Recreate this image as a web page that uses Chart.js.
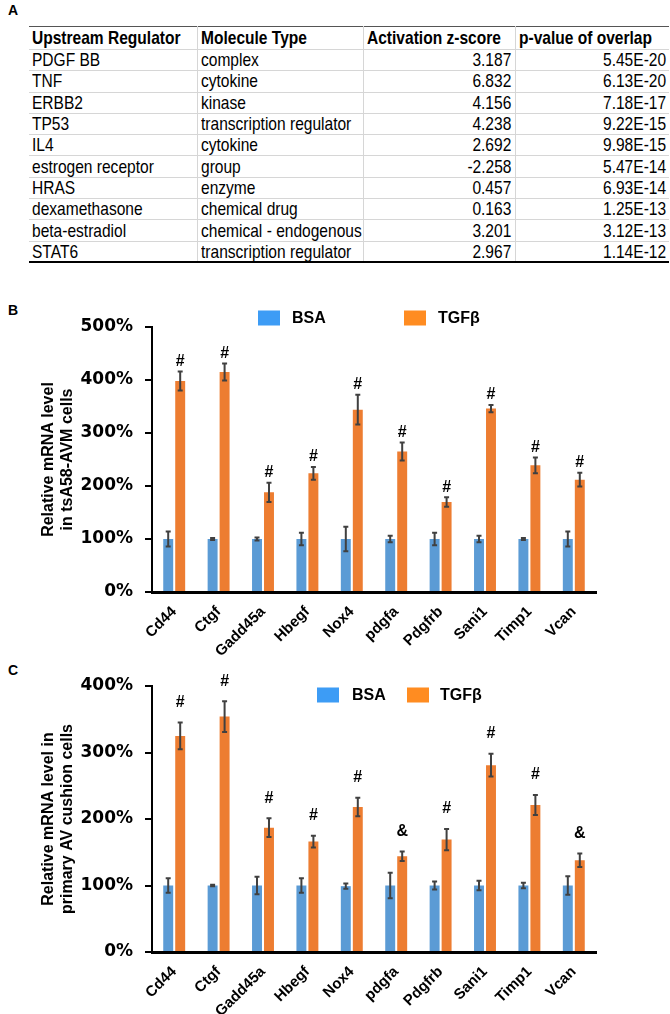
<!DOCTYPE html>
<html><head><meta charset="utf-8">
<script src="https://cdn.jsdelivr.net/npm/chart.js@4.4.1/dist/chart.umd.min.js"></script>
<style>
html,body{margin:0;padding:0;background:#fff;width:670px;height:1014px;overflow:hidden;position:relative}
.panel{position:absolute;font:bold 14px 'Liberation Sans',Arial,sans-serif;color:#000}
#tbl{position:absolute;left:29px;top:26px;width:640px;border-collapse:collapse;table-layout:fixed;
 font-family:'Liberation Sans',Arial,sans-serif;font-size:18.5px;color:#000;border-top:1px solid #555}
#tbl th,#tbl td{padding:0 3px;white-space:nowrap;overflow:visible;border-bottom:1px solid #d6d6d6;line-height:18px}
#tbl th+th,#tbl td+td{border-left:1px solid #d6d6d6}
#tbl th{text-align:left;font-weight:bold}
#tbl thead tr{height:23px}
#tbl tbody tr{height:21.3px}
#tbl td.num{text-align:right}
#tbl span{display:inline-block;transform:scaleX(0.84);transform-origin:left center}
#tbl td.num span{transform-origin:right center}
#tbl tbody tr:last-child td{border-bottom:2px solid #000}
canvas{position:absolute;left:0}
</style></head>
<body>
<div class="panel" style="left:8px;top:2px">A</div>
<table id="tbl"><colgroup><col style="width:168px"><col style="width:166px"><col style="width:152px"><col style="width:154px"></colgroup>
<thead><tr id="hdr"></tr></thead><tbody id="tb"></tbody></table>
<div class="panel" style="left:8px;top:302px">B</div>
<div class="panel" style="left:8px;top:662px">C</div>
<canvas id="cB" width="670" height="370" style="top:298px"></canvas>
<canvas id="cC" width="670" height="374" style="top:640px"></canvas>
<script>
// ---------- Table data (panel A) ----------
const tableHeaders = ['Upstream Regulator','Molecule Type','Activation z-score','p-value of overlap'];
const regulators = ['PDGF BB','TNF','ERBB2','TP53','IL4','estrogen receptor','HRAS','dexamethasone','beta-estradiol','STAT6'];
const moleculeTypes = ['complex','cytokine','kinase','transcription regulator','cytokine','group','enzyme','chemical drug','chemical - endogenous','transcription regulator'];
const zScores = [3.187,6.832,4.156,4.238,2.692,-2.258,0.457,0.163,3.201,2.967];
const pValues = ['5.45E-20','6.13E-20','7.18E-17','9.22E-15','9.98E-15','5.47E-14','6.93E-14','1.25E-13','3.12E-13','1.14E-12'];

// ---------- Chart data (panels B and C) ----------
const genes = ['Cd44','Ctgf','Gadd45a','Hbegf','Nox4','pdgfa','Pdgfrb','Sani1','Timp1','Vcan'];
const seriesNames = ['BSA','TGFβ'];
const bsaB    = [100,100,100,100,100,100,100,100,100,100];
const bsaErrB = [14,2,3,12,23,6,12,6,2,14];
const tgfB    = [398,415,188,224,344,265,170,346,239,212];
const tgfErrB = [18,16,18,12,28,17,9,7,15,13];
const sigB    = ['#','#','#','#','#','#','#','#','#','#'];
const bsaC    = [100,100,100,100,99,100,100,100,100,100];
const bsaErrC = [11,1,13,11,4,19,6,7,4,14];
const tgfC    = [325,354,187,166,218,144,169,281,221,138];
const tgfErrC = [20,23,14,9,14,7,16,17,15,10];
const sigC    = ['#','#','#','#','#','&','#','#','#','&'];
const yTitleB = ['Relative mRNA level','in tsA58-AVM cells'];
const yTitleC = ['Relative mRNA level in','primary AV cushion cells'];

// build table
function cell(tag, text, cls) {
  const c = document.createElement(tag);
  const s = document.createElement('span'); s.textContent = text; c.appendChild(s);
  if (cls) c.className = cls;
  return c;
}
const hdr = document.getElementById('hdr');
tableHeaders.forEach(h => hdr.appendChild(cell('th', h)));
const tb = document.getElementById('tb');
regulators.forEach((r, i) => {
  const tr = document.createElement('tr');
  tr.appendChild(cell('td', r));
  tr.appendChild(cell('td', moleculeTypes[i]));
  tr.appendChild(cell('td', zScores[i].toFixed(3), 'num'));
  tr.appendChild(cell('td', pValues[i], 'num'));
  tb.appendChild(tr);
});

Chart.defaults.font.family = "'Liberation Sans', Arial, sans-serif";
Chart.defaults.color = '#000';

const barColors = ['#5b9bd5','#ed7d31'];
const legendColors = ['#3d9cf5','#ff8c21'];

const errorBarPlugin = {
  id: 'errorBars',
  afterDatasetsDraw(chart) {
    const ctx = chart.ctx, y = chart.scales.y;
    ctx.save();
    ctx.strokeStyle = '#404040'; ctx.lineWidth = 2;
    chart.data.datasets.forEach((ds, i) => {
      chart.getDatasetMeta(i).data.forEach((bar, j) => {
        const v = ds.data[j], e = ds.errors[j];
        const yt = y.getPixelForValue(v + e), yb = y.getPixelForValue(v - e);
        ctx.beginPath();
        ctx.moveTo(bar.x, yt); ctx.lineTo(bar.x, yb);
        ctx.moveTo(bar.x - 2.5, yt); ctx.lineTo(bar.x + 2.5, yt);
        ctx.moveTo(bar.x - 2.5, yb); ctx.lineTo(bar.x + 2.5, yb);
        ctx.stroke();
      });
    });
    ctx.restore();
  }
};

const sigPlugin = {
  id: 'sigMarks',
  afterDraw(chart, args, opts) {
    const ctx = chart.ctx, y = chart.scales.y;
    const ds = chart.data.datasets[1];
    ctx.save();
    ctx.font = "bold 16px 'Liberation Sans', Arial, sans-serif";
    ctx.fillStyle = '#000'; ctx.textAlign = 'center'; ctx.textBaseline = 'middle';
    chart.getDatasetMeta(1).data.forEach((bar, j) => {
      const top = y.getPixelForValue(ds.data[j] + ds.errors[j]);
      ctx.fillText(opts.marks[j], bar.x, top - opts.offset);
    });
    ctx.restore();
  }
};

const boxLegendPlugin = {
  id: 'boxLegend',
  afterDraw(chart, args, opts) {
    const ctx = chart.ctx;
    ctx.save();
    ctx.font = "bold 16px 'Liberation Sans', Arial, sans-serif";
    ctx.textBaseline = 'middle'; ctx.textAlign = 'left';
    chart.data.datasets.forEach((ds, i) => {
      const it = opts.items[i];
      ctx.fillStyle = legendColors[i];
      ctx.fillRect(it.x, opts.y - 7.5, 22, 15);
      ctx.fillStyle = '#000';
      ctx.fillText(ds.label, it.textX, opts.y + 1);
    });
    ctx.restore();
  }
};

function makeChart(id, bsa, bsaErr, tgf, tgfErr, marks, yMax, yTitle, padTop, xAxisH, legendY, legendItems, sigOffset) {
  return new Chart(document.getElementById(id), {
    type: 'bar',
    data: {
      labels: genes,
      datasets: [
        { label: seriesNames[0], data: bsa, errors: bsaErr, backgroundColor: barColors[0] },
        { label: seriesNames[1], data: tgf, errors: tgfErr, backgroundColor: barColors[1] }
      ]
    },
    options: {
      responsive: false, animation: false, devicePixelRatio: 1,
      layout: { padding: { left: 35, right: 74, top: padTop, bottom: 0 } },
      datasets: { bar: { categoryPercentage: 0.54, barPercentage: 0.83 } },
      plugins: {
        legend: { display: false }, tooltip: { enabled: false },
        sigMarks: { marks: marks, offset: sigOffset },
        boxLegend: { y: legendY, items: legendItems }
      },
      scales: {
        x: {
          grid: { display: false },
          border: { display: true, color: '#000', width: 3 },
          ticks: { autoSkip: false, minRotation: 45, maxRotation: 45, padding: 3,
                   font: { size: 15, weight: 'bold' }, color: '#000' },
          afterFit(s) { s.height = xAxisH; }
        },
        y: {
          min: 0, max: yMax,
          grid: { drawOnChartArea: false, drawTicks: true, tickLength: 7, color: '#000', lineWidth: 2 },
          border: { display: true, color: '#000', width: 2 },
          ticks: { stepSize: 100, padding: 12, color: '#000',
                   font: { family: "'DejaVu Sans', sans-serif", size: 17, weight: 'bold' },
                   callback: v => v + '%' },
          title: { display: true, text: yTitle, color: '#000', padding: { top: 4, bottom: 4 },
                   font: { size: 16, weight: 'bold' } },
          afterFit(s) { s.width = 117; }
        }
      }
    },
    plugins: [errorBarPlugin, sigPlugin, boxLegendPlugin]
  });
}

makeChart('cB', bsaB, bsaErrB, tgfB, tgfErrB, sigB, 500, yTitleB, 29, 76, 20,
  [{ x: 258, textX: 292 }, { x: 404, textX: 438 }], 10);
makeChart('cC', bsaC, bsaErrC, tgfC, tgfErrC, sigC, 400, yTitleC, 46, 62, 55,
  [{ x: 317, textX: 352 }, { x: 407, textX: 440 }], 20);
</script>
</body></html>
